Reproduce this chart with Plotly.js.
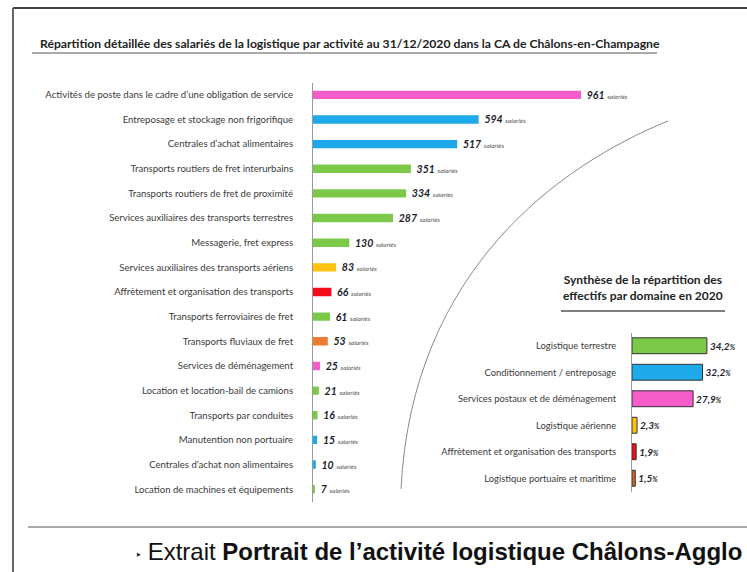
<!DOCTYPE html>
<html>
<head>
<meta charset="utf-8">
<script src="https://cdn.plot.ly/plotly-3.0.1.min.js"></script>
<style>html,body{margin:0;padding:0;background:#fff;}#chart{width:747px;height:572px;}</style>
</head>
<body>
<div id="chart"></div>
<script>
// ---- Data ----
const activities = [
  "Activités de poste dans le cadre d’une obligation de service",
  "Entreposage et stockage non frigorifique",
  "Centrales d’achat alimentaires",
  "Transports routiers de fret interurbains",
  "Transports routiers de fret de proximité",
  "Services auxiliaires des transports terrestres",
  "Messagerie, fret express",
  "Services auxiliaires des transports aériens",
  "Affrètement et organisation des transports",
  "Transports ferroviaires de fret",
  "Transports fluviaux de fret",
  "Services de déménagement",
  "Location et location-bail de camions",
  "Transports par conduites",
  "Manutention non portuaire",
  "Centrales d’achat non alimentaires",
  "Location de machines et équipements"
];
const employees = [961, 594, 517, 351, 334, 287, 130, 83, 66, 61, 53, 25, 21, 16, 15, 10, 7];
const activityColors = [
  "#f75ccb", "#1ea9ea", "#1ea9ea", "#7cc94a", "#7cc94a", "#7cc94a", "#7cc94a",
  "#ffc20e", "#f40c1a", "#7cc94a", "#ee7b30", "#f75ccb", "#7cc94a", "#7cc94a",
  "#1ea9ea", "#1ea9ea", "#7cc94a"
];
const domains = [
  "Logistique terrestre",
  "Conditionnement / entreposage",
  "Services postaux et de déménagement",
  "Logistique aérienne",
  "Affrètement et organisation des transports",
  "Logistique portuaire et maritime"
];
const domainShares = [34.2, 32.2, 27.9, 2.3, 1.9, 1.5];
const domainColors = ["#7cc94a", "#1ea9ea", "#f75ccb", "#ffc20e", "#f40c1a", "#d2691e"];

// ---- Layout helpers (pixel -> paper) ----
const W = 747, H = 572;
const px = x => x / W;
const py = y => 1 - y / H;

const mainText = employees.map(v =>
  `\u00a0<b><i>${v}</i></b> <span style="font-size:6.5px;font-style:italic;fill:#555">salariés</span>`);
const domainText = domainShares.map(v =>
  `<b><i>${v.toFixed(1).replace('.', ',')}</i></b><span style="font-size:7px;font-style:italic;font-weight:bold">%</span>`);

const traces = [
  {
    type: 'bar', orientation: 'h',
    y: activities, x: employees,
    xaxis: 'x', yaxis: 'y', width: 0.34,
    marker: { color: activityColors },
    text: mainText, textposition: 'outside', cliponaxis: false, constraintext: 'none',
    textfont: { family: 'Lato, sans-serif', size: 10.5, color: '#1c1c2c' },
    hoverinfo: 'x+y'
  },
  {
    type: 'bar', orientation: 'h',
    y: domains, x: domainShares,
    xaxis: 'x2', yaxis: 'y2', width: 0.6,
    marker: { color: domainColors, line: { color: '#333', width: 1 } },
    text: domainText, textposition: 'outside', cliponaxis: false, constraintext: 'none',
    textfont: { family: 'Lato, sans-serif', size: 10, color: '#1c1c2c' },
    hoverinfo: 'x+y'
  }
];

const layout = {
  width: W, height: H,
  margin: { l: 0, r: 0, t: 0, b: 0 },
  paper_bgcolor: '#fff', plot_bgcolor: 'rgba(0,0,0,0)',
  showlegend: false,
  font: { family: 'Lato, sans-serif', color: '#333' },
  xaxis: {
    domain: [px(313), 1], range: [0, (W - 313) / 0.2789],
    visible: false, fixedrange: true
  },
  yaxis: {
    domain: [py(501.5), py(82.5)], type: 'category', autorange: 'reversed',
    showline: true, linecolor: '#9a9a9a', linewidth: 1,
    ticks: '', ticklabelstandoff: 17,
    tickfont: { family: 'Lato, sans-serif', size: 9.6, color: '#3a3a3a' },
    showgrid: false, zeroline: false, fixedrange: true
  },
  xaxis2: {
    domain: [px(632), 1], range: [0, (W - 632) / 2.19], anchor: 'y2',
    visible: false, fixedrange: true
  },
  yaxis2: {
    domain: [py(491.5), py(332.5)], type: 'category', autorange: 'reversed', anchor: 'x2',
    showline: true, linecolor: '#9a9a9a', linewidth: 1,
    ticks: '', ticklabelstandoff: 13,
    tickfont: { family: 'Lato, sans-serif', size: 9.4, color: '#3a3a3a' },
    showgrid: false, zeroline: false, fixedrange: true
  },
  shapes: [
    // frame top and left
    { type: 'line', xref: 'paper', yref: 'paper', x0: px(13), x1: 1, y0: py(8), y1: py(8), line: { color: '#444', width: 2 } },
    { type: 'line', xref: 'paper', yref: 'paper', x0: px(13), x1: px(13), y0: py(8), y1: 0, line: { color: '#666', width: 2 } },
    // title underline
    { type: 'line', xref: 'paper', yref: 'paper', x0: px(32), x1: px(657), y0: py(53), y1: py(53), line: { color: '#555', width: 1 } },
    // right title underline
    { type: 'line', xref: 'paper', yref: 'paper', x0: px(561), x1: px(725), y0: py(311), y1: py(311), line: { color: '#555', width: 1.5 } },
    // footer separator
    { type: 'line', xref: 'paper', yref: 'paper', x0: px(28), x1: 1, y0: py(527), y1: py(527), line: { color: '#555', width: 1 } },
    // decorative arc
    {
      type: 'path', xref: 'paper', yref: 'paper',
      path: `M ${px(668)},${py(121)} C ${px(560)},${py(165)} ${px(412)},${py(270)} ${px(401)},${py(489)}`,
      line: { color: '#8a8a8a', width: 1 }
    }
  ],
  annotations: [
    {
      xref: 'paper', yref: 'paper', x: px(38), y: py(44), xanchor: 'left', yanchor: 'middle',
      text: '<b>Répartition détaillée des salariés de la logistique par activité au 31/12/2020 dans la CA de Châlons-en-Champagne</b>',
      showarrow: false, font: { family: 'Lato, sans-serif', size: 12.2, color: '#222' }
    },
    {
      xref: 'paper', yref: 'paper', x: px(643), y: py(287), xanchor: 'center', yanchor: 'middle',
      text: '<b>Synthèse de la répartition des<br>effectifs par domaine en 2020</b>',
      showarrow: false, align: 'center',
      font: { family: 'Lato, sans-serif', size: 12, color: '#222' }
    },
    {
      xref: 'paper', yref: 'paper', x: px(134), y: py(551), xanchor: 'left', yanchor: 'middle',
      text: '<span style="font-size:14px">‣</span> Extrait <b>Portrait de l’activité logistique Châlons-Agglo</b>',
      showarrow: false, font: { family: 'Liberation Sans, Arial, sans-serif', size: 24, color: '#111' }
    }
  ]
};

Plotly.newPlot('chart', traces, layout, { displayModeBar: false, staticPlot: true });
</script>
</body>
</html>
